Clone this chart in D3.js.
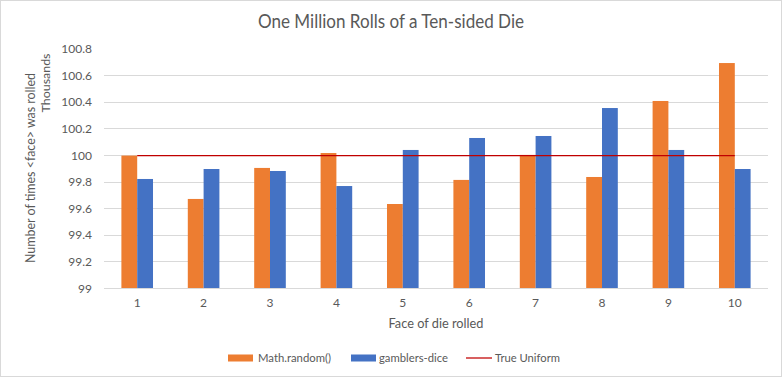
<!DOCTYPE html>
<html>
<head>
<meta charset="utf-8">
<script src="https://cdn.jsdelivr.net/npm/d3@7"></script>
<style>
  html, body { margin: 0; padding: 0; background: #fff; }
  svg { display: block; font-family: "Lato", "Open Sans", sans-serif; }
</style>
</head>
<body>
<svg id="chart" width="783" height="378"></svg>
<script>
const categories = ["1", "2", "3", "4", "5", "6", "7", "8", "9", "10"];
const mathRandom = [99.995, 99.669, 99.902, 100.014, 99.631, 99.812, 100.0, 99.834, 100.405, 100.690];
const gamblersDice = [99.819, 99.894, 99.879, 99.766, 100.037, 100.127, 100.142, 100.352, 100.037, 99.894];
const trueUniform = [100, 100, 100, 100, 100, 100, 100, 100, 100, 100];
const yTicks = [99, 99.2, 99.4, 99.6, 99.8, 100, 100.2, 100.4, 100.6, 100.8];
const yTickLabels = ["99", "99.2", "99.4", "99.6", "99.8", "100", "100.2", "100.4", "100.6", "100.8"];
const seriesNames = ["Math.random()", "gamblers-dice", "True Uniform"];
const colors = ["#ed7d31", "#4472c4", "#c00000"];

const svg = d3.select("#chart");
const plot = { left: 104, right: 768, top: 48.4, bottom: 288 };

// chart border
svg.append("rect").attr("x", 0.5).attr("y", 0.5).attr("width", 781).attr("height", 376)
  .attr("fill", "#fff").attr("stroke", "#d9d9d9").attr("stroke-width", 1);

const x = d3.scaleBand().domain(categories).range([plot.left, plot.right]);
const y = d3.scaleLinear().domain([99, 100.8]).range([plot.bottom, plot.top]);

// gridlines (no line at the top value)
svg.append("g").selectAll("line").data(yTicks.filter(v => v < 100.8)).join("line")
  .attr("x1", plot.left).attr("x2", plot.right)
  .attr("y1", d => Math.round(y(d)) + 0.5).attr("y2", d => Math.round(y(d)) + 0.5)
  .attr("stroke", "#d9d9d9").attr("stroke-width", 1);

// y tick labels
const yAxis = d3.axisLeft(y).tickValues(yTicks).tickFormat((d, i) => yTickLabels[i]).tickSize(0).tickPadding(0);
const gy = svg.append("g").attr("transform", `translate(92,0)`).call(yAxis);
gy.select(".domain").remove();
gy.selectAll("text").attr("fill", "#595959").style("font-size", "12px").style("font-family", "Lato, 'Open Sans', sans-serif").attr("dy", "0.35em");

// bars
const bw = x.bandwidth() * 0.238;
const barData = categories.map((c, i) => ({ c, a: mathRandom[i], b: gamblersDice[i] }));
const bars = svg.append("g");
bars.selectAll("rect.a").data(barData).join("rect").attr("class", "a")
  .attr("x", d => x(d.c) + x.bandwidth() / 2 - bw)
  .attr("width", bw)
  .attr("y", d => y(d.a)).attr("height", d => y(99) - y(d.a))
  .attr("fill", colors[0]);
bars.selectAll("rect.b").data(barData).join("rect").attr("class", "b")
  .attr("x", d => x(d.c) + x.bandwidth() / 2)
  .attr("width", bw)
  .attr("y", d => y(d.b)).attr("height", d => y(99) - y(d.b))
  .attr("fill", colors[1]);

// axis baseline redraw over bars
svg.append("line").attr("x1", plot.left).attr("x2", plot.right)
  .attr("y1", Math.round(y(99)) + 0.5).attr("y2", Math.round(y(99)) + 0.5)
  .attr("stroke", "#d9d9d9");

// true uniform line
const line = d3.line().x((d, i) => x(categories[i]) + x.bandwidth() / 2).y(d => Math.round(y(d)) + 0.5);
svg.append("path").datum(trueUniform).attr("d", line)
  .attr("fill", "none").attr("stroke", colors[2]).attr("stroke-width", 1.25);

// x tick labels
const xAxis = d3.axisBottom(x).tickSize(0).tickPadding(0);
const gx = svg.append("g").attr("transform", `translate(0,303)`).call(xAxis);
gx.select(".domain").remove();
gx.selectAll("text").attr("fill", "#595959").style("font-size", "12px").style("font-family", "Lato, 'Open Sans', sans-serif").attr("dy", "0.35em");

// title
svg.append("text").attr("x", 391).attr("y", 28).attr("text-anchor", "middle")
  .attr("fill", "#595959").style("font-size", "18.5px")
  .attr("textLength", 266).attr("lengthAdjust", "spacingAndGlyphs")
  .text("One Million Rolls of a Ten-sided Die");

// x axis title
svg.append("text").attr("x", 436).attr("y", 328).attr("text-anchor", "middle")
  .attr("fill", "#595959").style("font-size", "13px")
  .attr("textLength", 95).attr("lengthAdjust", "spacingAndGlyphs")
  .text("Face of die rolled");

// y axis title
svg.append("text").attr("transform", "translate(35,168) rotate(-90)").attr("text-anchor", "middle")
  .attr("fill", "#595959").style("font-size", "13px")
  .attr("textLength", 190).attr("lengthAdjust", "spacingAndGlyphs")
  .text("Number of times <face> was rolled");

// units label
svg.append("text").attr("transform", "translate(50,83) rotate(-90)").attr("text-anchor", "middle")
  .attr("fill", "#595959").style("font-size", "12px")
  .attr("textLength", 59).attr("lengthAdjust", "spacingAndGlyphs")
  .text("Thousands");

// legend
const legendItems = [
  { name: seriesNames[0], color: colors[0], type: "rect", sx: 228, tx: 258, tl: 73 },
  { name: seriesNames[1], color: colors[1], type: "rect", sx: 351, tx: 379, tl: 69 },
  { name: seriesNames[2], color: colors[2], type: "line", sx: 466, tx: 495, tl: 65 }
];
const lg = svg.append("g");
legendItems.forEach(it => {
  if (it.type === "rect") {
    lg.append("rect").attr("x", it.sx).attr("y", 354.5).attr("width", 25).attr("height", 7).attr("fill", it.color);
  } else {
    lg.append("line").attr("x1", it.sx).attr("x2", it.sx + 26).attr("y1", 358).attr("y2", 358)
      .attr("stroke", it.color).attr("stroke-width", 1.25);
  }
  lg.append("text").attr("x", it.tx).attr("y", 358).attr("dy", "0.35em")
    .attr("fill", "#595959").style("font-size", "12px")
    .attr("textLength", it.tl).attr("lengthAdjust", "spacingAndGlyphs")
    .text(it.name);
});
</script>
</body>
</html>
